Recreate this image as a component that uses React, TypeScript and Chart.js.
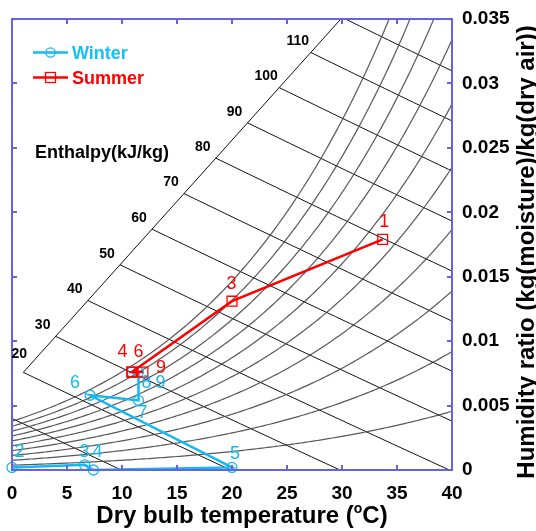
import React, { useEffect, useRef } from "react";
import { Chart, registerables } from "chart.js";

Chart.register(...registerables);

// ---------- axes ----------
const xTicks = [0, 5, 10, 15, 20, 25, 30, 35, 40];
const yTicks = [0, 0.005, 0.01, 0.015, 0.02, 0.025, 0.03, 0.035];
const yTickLabels = ["0", "0.005", "0.01", "0.015", "0.02", "0.025", "0.03", "0.035"];

// ---------- process series ----------
const winterT = [0, 6.6, 7.4, 20.0, 7.1, 11.5, 11.5, 10.9];
const winterW = [0.0002, 0.0004, 0.0, 0.0002, 0.0058, 0.0054, 0.0076, 0.0076];
const winterLabels = ["2", "3", "4", "5", "6", "7", "8", "9"];

const summerT = [33.7, 20.0, 10.9, 10.9, 11.9];
const summerW = [0.0179, 0.0131, 0.0076, 0.0076, 0.0076];
const summerLabels = ["1", "3", "4", "6", "9"];

// ---------- psychrometric background ----------
const rhLevels = [0.1, 0.2, 0.3, 0.4, 0.5, 0.6, 0.7, 0.8, 0.9, 1.0];
const enthalpyLevels = [10, 20, 30, 40, 50, 60, 70, 80, 90, 100, 110, 120];
const enthalpyLabelLevels = [20, 30, 40, 50, 60, 70, 80, 90, 100, 110];
const P_ATM = 101.325; // kPa
// straight "enthalpy scale" line where enthalpy lines start: W = a + b*t
const SCALE_A = 0.0066;
const SCALE_B = 0.00095;

// ---------- styles (not data) ----------
const FONT = "'Liberation Sans', Arial, sans-serif";
const AXIS_BLUE = "#6363e4";
const WINTER = "#14b8f2";
const SUMMER = "#ff0000";
const winterLabelOffsets = [[7.5, -15.5], [0, -13], [4, -18], [3, -13], [-15, -12.5], [4, 13], [8, 10.5], [28.5, 10.5]];
const summerLabelOffsets = [[1.5, -17], [-0.5, -17], [-9.4, -20.5], [6.6, -20.5], [18.2, -4.5]];
const enthalpyLabelOffset = [-13, -11];
const enthalpy20LabelOffset = [-4, -18];

function pws(t: number) {
  return 0.61094 * Math.exp((17.625 * t) / (t + 243.04));
}
function wFromRh(t: number, phi: number) {
  const pw = phi * pws(t);
  return (0.622 * pw) / (P_ATM - pw);
}
function wFromH(h: number, t: number) {
  return (h - 1.006 * t) / (2501 + 1.86 * t);
}
function enthalpyStartT(h: number) {
  const A = 1.86 * SCALE_B;
  const B = 1.006 + 1.86 * SCALE_A + 2501 * SCALE_B;
  const C = 2501 * SCALE_A - h;
  return (-B + Math.sqrt(B * B - 4 * A * C)) / (2 * A);
}

function buildBackground() {
  const sets: any[] = [];
  rhLevels.forEach((phi) => {
    const pts: { x: number; y: number }[] = [];
    for (let i = 0; i <= 160; i++) {
      const t = i * 0.25;
      pts.push({ x: t, y: wFromRh(t, phi) });
    }
    sets.push({
      data: pts,
      borderColor: "rgba(70,70,70,0.9)",
      borderWidth: 1.2,
      pointRadius: 0,
      tension: 0,
      clip: 0,
    });
  });
  enthalpyLevels.forEach((h) => {
    const t0 = enthalpyStartT(h);
    const t1 = Math.min(h / 1.006, 40.5);
    const pts: { x: number; y: number }[] = [];
    const n = 20;
    for (let i = 0; i <= n; i++) {
      const t = t0 + ((t1 - t0) * i) / n;
      pts.push({ x: t, y: wFromH(h, t) });
    }
    sets.push({
      data: pts,
      borderColor: "#111",
      borderWidth: 1,
      pointRadius: 0,
      tension: 0,
      clip: 0,
    });
  });
  // enthalpy scale line
  const tA = enthalpyStartT(20);
  const tB = (0.035 - SCALE_A) / SCALE_B;
  sets.push({
    data: [
      { x: tA, y: SCALE_A + SCALE_B * tA },
      { x: tB, y: SCALE_A + SCALE_B * tB },
    ],
    borderColor: "#111",
    borderWidth: 1,
    pointRadius: 0,
    clip: 0,
  });
  return sets;
}

const overlayPlugin = {
  id: "overlay",
  afterDatasetsDraw(chart: any) {
    const ctx: CanvasRenderingContext2D = chart.ctx;
    const { left, right, top, bottom } = chart.chartArea;
    const xs = chart.scales.x;
    const ys = chart.scales.y;
    ctx.save();

    // frame
    ctx.strokeStyle = AXIS_BLUE;
    ctx.lineWidth = 2;
    ctx.strokeRect(left, top, right - left, bottom - top);
    // inward ticks
    ctx.beginPath();
    xTicks.forEach((v) => {
      const px = Math.round(xs.getPixelForValue(v));
      ctx.moveTo(px, bottom);
      ctx.lineTo(px, bottom - 5);
      ctx.moveTo(px, top);
      ctx.lineTo(px, top + 5);
    });
    yTicks.forEach((v) => {
      const py = Math.round(ys.getPixelForValue(v));
      ctx.moveTo(left, py);
      ctx.lineTo(left + 5, py);
      ctx.moveTo(right, py);
      ctx.lineTo(right - 5, py);
    });
    ctx.stroke();

    // enthalpy labels
    ctx.fillStyle = "#000";
    ctx.font = `bold 14px ${FONT}`;
    ctx.textAlign = "center";
    ctx.textBaseline = "middle";
    enthalpyLabelLevels.forEach((h) => {
      const t = enthalpyStartT(h);
      const w = SCALE_A + SCALE_B * t;
      const off = h === 20 ? enthalpy20LabelOffset : enthalpyLabelOffset;
      ctx.fillText(String(h), xs.getPixelForValue(t) + off[0], ys.getPixelForValue(w) + off[1]);
    });

    // "Enthalpy(kJ/kg)"
    ctx.font = `bold 18px ${FONT}`;
    ctx.textAlign = "left";
    ctx.textBaseline = "alphabetic";
    ctx.fillText("Enthalpy(kJ/kg)", 35, 158);

    // point labels
    ctx.font = `18px ${FONT}`;
    ctx.textAlign = "center";
    ctx.textBaseline = "middle";
    ctx.fillStyle = WINTER;
    winterLabels.forEach((lab, i) => {
      const px = xs.getPixelForValue(winterT[i]);
      const py = ys.getPixelForValue(winterW[i]);
      ctx.fillText(lab, px + winterLabelOffsets[i][0], py + winterLabelOffsets[i][1]);
    });
    ctx.fillStyle = SUMMER;
    summerLabels.forEach((lab, i) => {
      const px = xs.getPixelForValue(summerT[i]);
      const py = ys.getPixelForValue(summerW[i]);
      ctx.fillText(lab, px + summerLabelOffsets[i][0], py + summerLabelOffsets[i][1]);
    });

    // legend
    ctx.lineWidth = 2.5;
    ctx.strokeStyle = WINTER;
    ctx.beginPath();
    ctx.moveTo(33, 52.5);
    ctx.lineTo(68, 52.5);
    ctx.stroke();
    ctx.lineWidth = 1.3;
    ctx.beginPath();
    ctx.arc(50.5, 52.5, 4.7, 0, Math.PI * 2);
    ctx.stroke();
    ctx.lineWidth = 2.5;
    ctx.strokeStyle = SUMMER;
    ctx.beginPath();
    ctx.moveTo(33, 77.5);
    ctx.lineTo(68, 77.5);
    ctx.stroke();
    ctx.lineWidth = 1.3;
    ctx.strokeRect(45.5, 72.5, 10, 10);
    ctx.font = `bold 18px ${FONT}`;
    ctx.textAlign = "left";
    ctx.textBaseline = "alphabetic";
    ctx.fillStyle = "#12c2f8";
    ctx.fillText("Winter", 72, 59);
    ctx.fillStyle = SUMMER;
    ctx.fillText("Summer", 72, 83.5);

    // x-axis title with superscript o
    ctx.fillStyle = "#000";
    const big = `bold 24px ${FONT}`;
    const small = `bold 14px ${FONT}`;
    const p1 = "Dry bulb temperature (";
    const p2 = "o";
    const p3 = "C)";
    ctx.font = big;
    const w1 = ctx.measureText(p1).width;
    const w3 = ctx.measureText(p3).width;
    ctx.font = small;
    const w2 = ctx.measureText(p2).width;
    const total = w1 + w2 + w3;
    const x0 = 242 - total / 2;
    const base = 523;
    ctx.font = big;
    ctx.fillText(p1, x0, base);
    ctx.font = small;
    ctx.fillText(p2, x0 + w1, base - 10);
    ctx.font = big;
    ctx.fillText(p3, x0 + w1 + w2, base);

    // y-axis title (right side, reading bottom to top)
    ctx.save();
    ctx.translate(534, 252);
    ctx.rotate(-Math.PI / 2);
    ctx.font = big;
    ctx.textAlign = "center";
    ctx.textBaseline = "alphabetic";
    ctx.fillText("Humidity ratio (kg(moisture)/kg(dry air))", 0, 0);
    ctx.restore();

    ctx.restore();
  },
};

export default function App() {
  const ref = useRef<HTMLCanvasElement>(null);
  useEffect(() => {
    if (!ref.current) return;
    const winterData = winterT.map((t, i) => ({ x: t, y: winterW[i] }));
    const summerData = summerT.map((t, i) => ({ x: t, y: summerW[i] }));
    const chart = new Chart(ref.current, {
      type: "line",
      data: {
        datasets: [
          {
            label: "Summer",
            data: summerData,
            borderColor: SUMMER,
            borderWidth: 2.5,
            pointStyle: "rect",
            pointRadius: 7,
            pointBorderWidth: 1.3,
            pointBorderColor: SUMMER,
            pointBackgroundColor: "rgba(0,0,0,0)",
            tension: 0,
            clip: false,
          },
          {
            label: "Winter",
            data: winterData,
            borderColor: WINTER,
            borderWidth: 2.5,
            pointStyle: "circle",
            pointRadius: 5,
            pointBorderWidth: 1.3,
            pointBorderColor: WINTER,
            pointBackgroundColor: "rgba(0,0,0,0)",
            tension: 0,
            clip: false,
          },
          ...buildBackground(),
        ],
      },
      options: {
        animation: false,
        responsive: false,
        devicePixelRatio: 1,
        events: [],
        layout: { padding: { left: 12, top: 19, right: 0, bottom: 0 } },
        plugins: { legend: { display: false }, tooltip: { enabled: false } },
        scales: {
          x: {
            type: "linear",
            position: "bottom",
            min: 0,
            max: 40,
            grid: { display: false, drawTicks: false },
            border: { display: false },
            afterBuildTicks: (s: any) => {
              s.ticks = xTicks.map((v) => ({ value: v }));
            },
            ticks: {
              padding: 12,
              autoSkip: false,
              maxRotation: 0,
              color: "#000",
              font: { family: FONT, size: 19, weight: "bold" },
              callback: (v: any) => String(v),
            },
            afterFit: (s: any) => {
              s.height = 61;
              s.paddingLeft = 0;
              s.paddingRight = 0;
            },
          },
          y: {
            type: "linear",
            position: "right",
            min: 0,
            max: 0.035,
            grid: { display: false, drawTicks: false },
            border: { display: false },
            afterBuildTicks: (s: any) => {
              s.ticks = yTicks.map((v) => ({ value: v }));
            },
            ticks: {
              padding: 10,
              autoSkip: false,
              color: "#000",
              font: { family: FONT, size: 19, weight: "bold" },
              callback: (v: any) => {
                const i = yTicks.indexOf(v);
                return i >= 0 ? yTickLabels[i] : "";
              },
            },
            afterFit: (s: any) => {
              s.width = 84;
              s.paddingTop = 0;
              s.paddingBottom = 0;
            },
          },
        },
      } as any,
      plugins: [overlayPlugin],
    } as any);
    return () => chart.destroy();
  }, []);
  return (
    <div style={{ position: "fixed", left: 0, top: 0, width: 536, height: 531, background: "#fff" }}>
      <canvas ref={ref} width={536} height={531} style={{ width: 536, height: 531, display: "block" }} />
    </div>
  );
}
